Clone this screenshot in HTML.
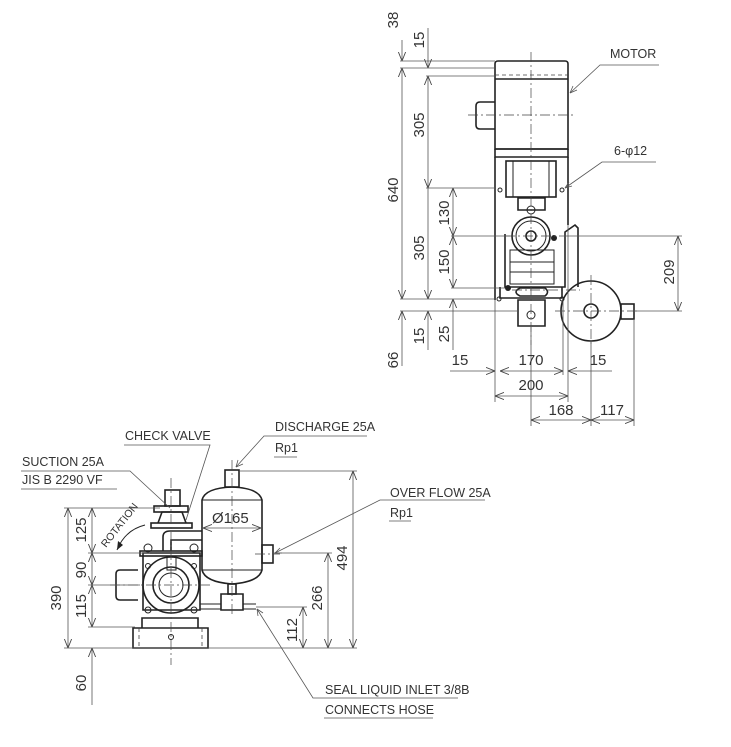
<!DOCTYPE html>
<html><head><meta charset="utf-8"><style>
html,body{margin:0;padding:0;background:#fff}
svg{display:block}
text{font-family:"Liberation Sans",sans-serif;font-size:12.5px;fill:#333}
.n{font-size:15px;text-anchor:middle}
.t{stroke:#222;stroke-width:1.6;fill:none}
.m{stroke:#222;stroke-width:1;fill:none}
.d{stroke:#555;stroke-width:0.8;fill:none}
.c{stroke:#444;stroke-width:0.7;fill:none;stroke-dasharray:10 3 2 3}
.h{stroke:#444;stroke-width:0.8;fill:none;stroke-dasharray:4 3}
</style></head><body>
<svg width="731" height="747" viewBox="0 0 731 747" xmlns="http://www.w3.org/2000/svg">
<defs>
<marker id="a" viewBox="0 0 10 10" refX="10" refY="5" markerWidth="9" markerHeight="9" orient="auto-start-reverse" markerUnits="userSpaceOnUse"><path d="M0,1 L10,5 L0,9" fill="none" stroke="#444" stroke-width="1"/></marker>
</defs>

<path class="t" d="M495,64 Q495,61 498,61 L565,61 Q568,61 568,64 L568,149 L495,149 Z"/>
<line class="h" x1="495" y1="75" x2="568" y2="75"/>
<line class="t" x1="495" y1="79" x2="568" y2="79"/>
<line class="t" x1="495" y1="149" x2="568" y2="149"/>
<path class="t" d="M495,149 L495,157 L568,157 L568,149"/>
<path class="t" d="M495,102 L480,102 Q476,102 476,106 L476,125 Q476,129 480,129 L495,129"/>
<line class="t" x1="495" y1="157" x2="495" y2="300"/>
<line class="t" x1="568" y1="157" x2="568" y2="225"/>
<rect class="t" x="506" y="161" width="50" height="36"/>
<line class="m" x1="513" y1="161" x2="513" y2="197"/>
<line class="m" x1="549" y1="161" x2="549" y2="197"/>
<circle cx="500" cy="190" r="2" class="m"/><circle cx="562" cy="190" r="2" class="m"/>
<path class="t" d="M518,198 L545,198 L545,210 L518,210 Z"/>
<circle cx="531" cy="210" r="4" class="m"/>
<circle cx="531" cy="236" r="19" class="t"/>
<circle cx="531" cy="236" r="15" class="m"/>
<circle cx="531" cy="236" r="5" class="t"/>
<path class="t" d="M505,234 L505,287 L565,287 L565,232 L575,225 L578,228 L578,287"/>
<rect class="m" x="510" y="250" width="44" height="34"/>
<line class="m" x1="510" y1="262" x2="554" y2="262"/>
<line class="m" x1="510" y1="272" x2="554" y2="272"/>
<path class="t" d="M500,287 L500,298 L562,298 L562,287"/>
<path class="t" d="M520,288 Q512,292 520,296 L545,296 Q550,292 545,288 Z"/>
<circle cx="508" cy="288" r="3" fill="#222"/>
<circle cx="554" cy="238" r="3" fill="#222"/>
<path class="t" d="M518,300 L545,300 L545,326 L518,326 Z"/>
<circle cx="531" cy="315" r="4" class="m"/>
<circle cx="499" cy="299" r="2" class="m"/><circle cx="562" cy="299" r="2" class="m"/>
<circle cx="591" cy="311" r="30" class="t"/>
<circle cx="591" cy="311" r="7" class="t"/>
<rect class="t" x="621" y="304" width="13" height="15"/>
<line class="c" x1="531" y1="52" x2="531" y2="345"/>
<line class="c" x1="468" y1="115" x2="575" y2="115"/>
<line class="c" x1="505" y1="236" x2="560" y2="236"/>
<line class="c" x1="555" y1="311" x2="640" y2="311"/>
<line class="c" x1="591" y1="275" x2="591" y2="345"/>
<line class="c" x1="512" y1="290" x2="580" y2="290"/>

<line class="d" x1="402" y1="40" x2="402" y2="61" marker-end="url(#a)"/>
<line class="d" x1="402" y1="68" x2="402" y2="299" marker-start="url(#a)" marker-end="url(#a)"/>
<line class="d" x1="402" y1="311" x2="402" y2="366" marker-start="url(#a)"/>
<line class="d" x1="428" y1="28" x2="428" y2="68" marker-end="url(#a)"/>
<line class="d" x1="428" y1="76" x2="428" y2="188" marker-start="url(#a)" marker-end="url(#a)"/>
<line class="d" x1="428" y1="188" x2="428" y2="299" marker-end="url(#a)"/>
<line class="d" x1="428" y1="311" x2="428" y2="350" marker-start="url(#a)"/>
<line class="d" x1="453" y1="188" x2="453" y2="236" marker-start="url(#a)" marker-end="url(#a)"/>
<line class="d" x1="453" y1="236" x2="453" y2="288" marker-start="url(#a)" marker-end="url(#a)"/>
<line class="d" x1="453" y1="299" x2="453" y2="350" marker-start="url(#a)"/>
<line class="d" x1="400" y1="61" x2="495" y2="61"/>
<line class="d" x1="400" y1="68" x2="495" y2="68"/>
<line class="d" x1="426" y1="76" x2="495" y2="76"/>
<line class="d" x1="426" y1="188" x2="495" y2="188"/>
<line class="d" x1="451" y1="236" x2="510" y2="236"/>
<line class="d" x1="560" y1="236" x2="682" y2="236"/>
<line class="d" x1="451" y1="288" x2="505" y2="288"/>
<line class="d" x1="400" y1="299" x2="495" y2="299"/>
<line class="d" x1="400" y1="311" x2="518" y2="311"/>
<line class="d" x1="634" y1="311" x2="682" y2="311"/>
<line class="d" x1="678" y1="236" x2="678" y2="311" marker-start="url(#a)" marker-end="url(#a)"/>
<text class="n" transform="translate(398,20) rotate(-90)">38</text>
<text class="n" transform="translate(424,40) rotate(-90)">15</text>
<text class="n" transform="translate(424,125) rotate(-90)">305</text>
<text class="n" transform="translate(398,190) rotate(-90)">640</text>
<text class="n" transform="translate(449,213) rotate(-90)">130</text>
<text class="n" transform="translate(424,248) rotate(-90)">305</text>
<text class="n" transform="translate(449,262) rotate(-90)">150</text>
<text class="n" transform="translate(424,336) rotate(-90)">15</text>
<text class="n" transform="translate(449,334) rotate(-90)">25</text>
<text class="n" transform="translate(398,360) rotate(-90)">66</text>
<text class="n" transform="translate(674,272) rotate(-90)">209</text>
<line class="d" x1="495" y1="300" x2="495" y2="402"/>
<line class="d" x1="568" y1="225" x2="568" y2="402"/>
<line class="d" x1="563" y1="300" x2="563" y2="375"/>
<line class="d" x1="531" y1="326" x2="531" y2="426"/>
<line class="d" x1="591" y1="341" x2="591" y2="426"/>
<line class="d" x1="634" y1="319" x2="634" y2="426"/>
<line class="d" x1="450" y1="371" x2="495" y2="371" marker-end="url(#a)"/>
<line class="d" x1="500" y1="371" x2="563" y2="371" marker-start="url(#a)" marker-end="url(#a)"/>
<line class="d" x1="568" y1="371" x2="612" y2="371" marker-start="url(#a)"/>
<line class="d" x1="495" y1="396" x2="568" y2="396" marker-start="url(#a)" marker-end="url(#a)"/>
<line class="d" x1="531" y1="420" x2="591" y2="420" marker-start="url(#a)" marker-end="url(#a)"/>
<line class="d" x1="591" y1="420" x2="634" y2="420" marker-start="url(#a)" marker-end="url(#a)"/>
<text class="n" x="460" y="365">15</text>
<text class="n" x="531" y="365">170</text>
<text class="n" x="598" y="365">15</text>
<text class="n" x="531" y="390">200</text>
<text class="n" x="561" y="415">168</text>
<text class="n" x="612" y="415">117</text>
<text x="610" y="58">MOTOR</text>
<polyline class="d" points="659,65 600,65 570,93"/>
<path d="M570,93 l3,-7 M570,93 l7,-3" class="d"/>
<text x="614" y="155">6-φ12</text>
<polyline class="d" points="656,162 602,162 565,188"/>
<path d="M565,188 l4,-6 M565,188 l7,-2" class="d"/>

<path class="t" d="M133,628 L208,628 L208,648 L133,648 Z"/>
<line class="h" x1="139" y1="628" x2="139" y2="648"/>
<line class="h" x1="202" y1="628" x2="202" y2="648"/>
<circle cx="171" cy="637" r="2.5" class="m"/>
<path class="t" d="M142,628 L142,618 L198,618 L198,628"/>
<path class="t" d="M138,570 L120,570 Q116,570 116,574 L116,596 Q116,600 120,600 L138,600"/>
<path class="t" d="M143,553 L200,553 L200,610 L143,610 Z"/>
<circle cx="171" cy="585" r="28" class="t"/>
<circle cx="171" cy="585" r="18" class="t"/>
<circle cx="171" cy="585" r="12" class="m"/>
<circle cx="148" cy="548" r="4" class="m"/><circle cx="194" cy="548" r="4" class="m"/>
<circle cx="148" cy="610" r="3" class="m"/><circle cx="194" cy="610" r="3" class="m"/>
<circle cx="148" cy="566" r="2.5" class="m"/><circle cx="194" cy="566" r="2.5" class="m"/>
<rect class="t" x="140" y="551" width="62" height="5"/>
<rect class="m" x="167" y="556" width="9" height="14"/>
<rect class="t" x="151" y="523" width="41" height="5"/>
<path class="t" d="M158,523 L162,512 L182,512 L186,523"/>
<rect class="t" x="154" y="506" width="34" height="6"/>
<rect class="t" x="165" y="490" width="15" height="16"/>
<path class="t" d="M163,551 L163,537 Q163,531 170,531 L202,531"/>
<path class="t" d="M171,551 L171,540 L202,540"/>
<path class="t" d="M202,500 Q205,488 232,487 Q259,488 262,500 L262,570 Q259,582 232,584 Q205,582 202,570 Z"/>
<line class="m" x1="202" y1="500" x2="262" y2="500"/>
<line class="m" x1="202" y1="570" x2="262" y2="570"/>
<rect class="t" x="225" y="470" width="14" height="17"/>
<rect class="t" x="262" y="545" width="11" height="18"/>
<rect class="t" x="228" y="584" width="8" height="10"/>
<path class="t" d="M221,594 L243,594 L243,610 L221,610 Z"/>
<path class="m" d="M200,604 L221,604 M200,609 L221,609 M243,604 L256,604 M243,609 L256,609"/>
<line class="c" x1="171" y1="478" x2="171" y2="665"/>
<line class="c" x1="232" y1="460" x2="232" y2="615"/>
<line class="c" x1="110" y1="585" x2="210" y2="585"/>
<line class="c" x1="255" y1="554" x2="280" y2="554"/>
<text x="212" y="523" style="font-size:15px">Ø165</text>
<line class="d" x1="203" y1="528" x2="261" y2="528" marker-start="url(#a)" marker-end="url(#a)"/>
<text transform="translate(106,548) rotate(-52)" style="font-size:10.5px">ROTATION</text>
<path class="m" d="M145,525 Q125,530 117,550" />
<path d="M117,550 l1,-9 l5,4 Z" fill="#222"/>
<line class="d" x1="64" y1="648" x2="357" y2="648"/>
<line class="d" x1="64" y1="508" x2="160" y2="508"/>
<line class="d" x1="88" y1="553" x2="150" y2="553"/>
<line class="d" x1="88" y1="585" x2="140" y2="585"/>
<line class="d" x1="88" y1="627" x2="135" y2="627"/>
<line class="d" x1="68" y1="508" x2="68" y2="648" marker-start="url(#a)" marker-end="url(#a)"/>
<line class="d" x1="92" y1="508" x2="92" y2="553" marker-start="url(#a)" marker-end="url(#a)"/>
<line class="d" x1="92" y1="553" x2="92" y2="585" marker-start="url(#a)" marker-end="url(#a)"/>
<line class="d" x1="92" y1="585" x2="92" y2="627" marker-start="url(#a)" marker-end="url(#a)"/>
<line class="d" x1="92" y1="648" x2="92" y2="705" marker-start="url(#a)"/>
<text class="n" transform="translate(61,598) rotate(-90)">390</text>
<text class="n" transform="translate(86,530) rotate(-90)">125</text>
<text class="n" transform="translate(86,570) rotate(-90)">90</text>
<text class="n" transform="translate(86,606) rotate(-90)">115</text>
<text class="n" transform="translate(86,683) rotate(-90)">60</text>
<line class="d" x1="240" y1="471" x2="357" y2="471"/>
<line class="d" x1="273" y1="553" x2="332" y2="553"/>
<line class="d" x1="256" y1="607" x2="307" y2="607"/>
<line class="d" x1="353" y1="471" x2="353" y2="648" marker-start="url(#a)" marker-end="url(#a)"/>
<line class="d" x1="328" y1="553" x2="328" y2="648" marker-start="url(#a)" marker-end="url(#a)"/>
<line class="d" x1="303" y1="607" x2="303" y2="648" marker-start="url(#a)" marker-end="url(#a)"/>
<text class="n" transform="translate(347,558) rotate(-90)">494</text>
<text class="n" transform="translate(322,598) rotate(-90)">266</text>
<text class="n" transform="translate(297,630) rotate(-90)">112</text>
<text x="125" y="440">CHECK VALVE</text>
<polyline class="d" points="124,445 210,445 186,520"/>
<text x="22" y="466">SUCTION 25A</text>
<polyline class="d" points="21,471 130,471 170,508"/>
<text x="22" y="484">JIS B 2290 VF</text>
<line class="d" x1="21" y1="489" x2="117" y2="489"/>
<text x="275" y="431">DISCHARGE 25A</text>
<polyline class="d" points="367,436 264,436 236,467"/>
<path d="M236,467 l2,-7 M236,467 l7,-3" class="d"/>
<text x="275" y="452">Rp1</text>
<line class="d" x1="274" y1="457" x2="297" y2="457"/>
<text x="390" y="497">OVER FLOW 25A</text>
<polyline class="d" points="485,500 380,500 275,553"/>
<path d="M275,553 l5,-5 M275,553 l7,0" class="d"/>
<text x="390" y="517">Rp1</text>
<line class="d" x1="389" y1="521" x2="411" y2="521"/>
<text x="325" y="694">SEAL LIQUID INLET 3/8B</text>
<polyline class="d" points="458,698 313,698 257,609"/>
<path d="M257,609 l1,7 M257,609 l6,4" class="d"/>
<text x="325" y="714">CONNECTS HOSE</text>
<line class="d" x1="324" y1="718" x2="433" y2="718"/>
</svg>
</body></html>
